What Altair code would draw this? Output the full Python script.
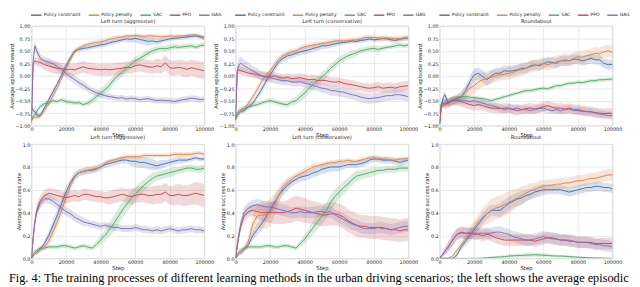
import altair as alt
import pandas as pd

STEPS = [0, 1000, 2000, 3000, 5000, 7500, 10000, 12500, 15000, 17500, 20000, 22500, 25000,
         27500, 30000, 32500, 35000, 37500, 40000, 42500, 45000, 47500, 50000, 52500, 55000,
         57500, 60000, 62500, 65000, 67500, 70000, 72500, 75000, 77500, 80000, 82500, 85000,
         87500, 90000, 92500, 95000, 97500, 100000]
METHODS = ["Policy constraint", "Policy penalty", "SAC", "PPO", "GAIL"]
COLORS = ["#4C72B0", "#DD8452", "#55A868", "#C44E52", "#8172B3"]
TITLES = ["Left turn (aggressive)", "Left turn (conservative)", "Roundabout"]
X_TICKS = [0, 20000, 40000, 60000, 80000, 100000]
REWARD_TICKS = [-1.0, -0.75, -0.5, -0.25, 0.0, 0.25, 0.5, 0.75, 1.0]
SUCCESS_TICKS = [0.0, 0.2, 0.4, 0.6, 0.8, 1.0]
CAPTION = ("Fig. 4: The training processes of different learning methods in the urban driving "
           "scenarios; the left shows the average episodic")

# ---------------- Average episode reward: Left turn (aggressive)
RA_MEAN = {
    "Policy constraint": [-0.62, -0.70, -0.72, -0.78, -0.80, -0.65, -0.48, -0.32, -0.16, 0.02, 0.20, 0.36, 0.50, 0.53, 0.55, 0.56, 0.58, 0.60, 0.62, 0.63, 0.66, 0.68, 0.70, 0.72, 0.74, 0.73, 0.75, 0.73, 0.71, 0.69, 0.70, 0.68, 0.70, 0.72, 0.74, 0.75, 0.76, 0.77, 0.78, 0.79, 0.80, 0.78, 0.75],
    "Policy penalty": [-0.90, -0.85, -0.83, -0.83, -0.82, -0.70, -0.57, -0.40, -0.24, -0.05, 0.14, 0.32, 0.47, 0.55, 0.60, 0.63, 0.65, 0.67, 0.68, 0.70, 0.73, 0.75, 0.77, 0.78, 0.80, 0.80, 0.81, 0.80, 0.79, 0.80, 0.80, 0.79, 0.78, 0.79, 0.80, 0.79, 0.80, 0.80, 0.81, 0.82, 0.82, 0.80, 0.78],
    "SAC": [-0.88, -0.82, -0.78, -0.72, -0.62, -0.56, -0.55, -0.50, -0.52, -0.48, -0.52, -0.53, -0.55, -0.54, -0.58, -0.55, -0.50, -0.42, -0.35, -0.28, -0.20, -0.08, 0.00, 0.07, 0.15, 0.22, 0.30, 0.35, 0.40, 0.45, 0.50, 0.53, 0.55, 0.54, 0.56, 0.58, 0.57, 0.58, 0.59, 0.60, 0.57, 0.60, 0.62],
    "PPO": [-0.85, 0.25, 0.30, 0.28, 0.27, 0.22, 0.20, 0.17, 0.15, 0.14, 0.12, 0.13, 0.12, 0.15, 0.18, 0.15, 0.14, 0.13, 0.12, 0.13, 0.12, 0.13, 0.14, 0.15, 0.17, 0.16, 0.20, 0.22, 0.20, 0.18, 0.17, 0.20, 0.18, 0.26, 0.16, 0.15, 0.17, 0.15, 0.13, 0.16, 0.14, 0.12, 0.10],
    "GAIL": [-0.95, 0.30, 0.60, 0.50, 0.36, 0.30, 0.27, 0.24, 0.19, 0.12, 0.05, -0.02, -0.08, -0.14, -0.19, -0.25, -0.30, -0.34, -0.37, -0.40, -0.42, -0.43, -0.45, -0.44, -0.47, -0.45, -0.46, -0.48, -0.47, -0.46, -0.48, -0.50, -0.49, -0.50, -0.50, -0.52, -0.50, -0.48, -0.47, -0.45, -0.46, -0.48, -0.47],
}
RA_SPREAD = {
    "Policy constraint": [0.06, 0.06, 0.06, 0.06, 0.05, 0.05, 0.06, 0.06, 0.06, 0.06, 0.06, 0.06, 0.05, 0.05, 0.05, 0.05, 0.05, 0.05, 0.05, 0.05, 0.05, 0.05, 0.05, 0.05, 0.06, 0.07, 0.08, 0.09, 0.09, 0.09, 0.08, 0.07, 0.06, 0.05, 0.05, 0.04, 0.04, 0.04, 0.04, 0.04, 0.04, 0.04, 0.04],
    "Policy penalty": [0.05, 0.05, 0.05, 0.05, 0.05, 0.06, 0.06, 0.06, 0.06, 0.06, 0.06, 0.06, 0.05, 0.05, 0.05, 0.05, 0.05, 0.05, 0.05, 0.05, 0.05, 0.05, 0.05, 0.04, 0.04, 0.04, 0.04, 0.04, 0.04, 0.04, 0.04, 0.04, 0.04, 0.04, 0.04, 0.04, 0.04, 0.04, 0.04, 0.04, 0.04, 0.04, 0.04],
    "SAC": [0.04, 0.05, 0.05, 0.05, 0.05, 0.05, 0.05, 0.05, 0.05, 0.05, 0.05, 0.05, 0.05, 0.05, 0.05, 0.06, 0.07, 0.08, 0.08, 0.09, 0.09, 0.09, 0.09, 0.09, 0.08, 0.08, 0.08, 0.07, 0.07, 0.07, 0.07, 0.06, 0.06, 0.06, 0.06, 0.06, 0.05, 0.05, 0.05, 0.05, 0.05, 0.05, 0.05],
    "PPO": [0.05, 0.08, 0.08, 0.08, 0.09, 0.10, 0.12, 0.12, 0.12, 0.12, 0.12, 0.12, 0.12, 0.12, 0.12, 0.12, 0.12, 0.12, 0.12, 0.12, 0.12, 0.12, 0.12, 0.12, 0.12, 0.12, 0.13, 0.13, 0.13, 0.13, 0.13, 0.14, 0.14, 0.15, 0.15, 0.15, 0.15, 0.16, 0.16, 0.16, 0.17, 0.17, 0.17],
    "GAIL": [0.05, 0.10, 0.12, 0.10, 0.08, 0.08, 0.08, 0.08, 0.08, 0.08, 0.08, 0.08, 0.08, 0.08, 0.08, 0.07, 0.07, 0.07, 0.07, 0.06, 0.06, 0.06, 0.06, 0.06, 0.06, 0.06, 0.06, 0.06, 0.06, 0.06, 0.06, 0.06, 0.06, 0.06, 0.06, 0.06, 0.06, 0.06, 0.06, 0.06, 0.06, 0.06, 0.06],
}

# ---------------- Average episode reward: Left turn (conservative)
RC_MEAN = {
    "Policy constraint": [-0.88, -0.80, -0.75, -0.72, -0.70, -0.62, -0.55, -0.42, -0.28, -0.12, 0.02, 0.15, 0.28, 0.35, 0.40, 0.42, 0.45, 0.48, 0.50, 0.52, 0.55, 0.57, 0.60, 0.60, 0.62, 0.64, 0.66, 0.67, 0.68, 0.70, 0.69, 0.71, 0.72, 0.74, 0.72, 0.73, 0.75, 0.74, 0.72, 0.71, 0.73, 0.75, 0.76],
    "Policy penalty": [-0.88, -0.80, -0.75, -0.72, -0.68, -0.55, -0.42, -0.28, -0.12, 0.00, 0.10, 0.22, 0.33, 0.40, 0.44, 0.48, 0.50, 0.55, 0.58, 0.60, 0.62, 0.63, 0.65, 0.66, 0.68, 0.70, 0.70, 0.70, 0.70, 0.71, 0.72, 0.74, 0.77, 0.77, 0.77, 0.76, 0.75, 0.76, 0.75, 0.75, 0.74, 0.76, 0.76],
    "SAC": [-0.85, -0.75, -0.70, -0.68, -0.65, -0.63, -0.60, -0.58, -0.55, -0.52, -0.50, -0.52, -0.55, -0.57, -0.58, -0.53, -0.50, -0.42, -0.35, -0.25, -0.17, -0.10, -0.02, 0.05, 0.15, 0.22, 0.30, 0.35, 0.40, 0.43, 0.46, 0.50, 0.52, 0.54, 0.55, 0.53, 0.55, 0.57, 0.58, 0.60, 0.62, 0.60, 0.62],
    "PPO": [-0.85, 0.10, 0.12, 0.10, 0.08, 0.05, 0.04, 0.02, 0.00, -0.02, -0.02, 0.00, -0.03, -0.05, -0.03, -0.06, -0.05, -0.04, -0.06, -0.08, -0.07, -0.10, -0.09, -0.10, -0.12, -0.13, -0.12, -0.15, -0.17, -0.18, -0.20, -0.22, -0.24, -0.25, -0.24, -0.22, -0.25, -0.24, -0.23, -0.25, -0.22, -0.21, -0.20],
    "GAIL": [-0.90, 0.10, 0.22, 0.25, 0.20, 0.15, 0.10, 0.05, 0.00, -0.02, -0.04, -0.06, -0.08, -0.10, -0.10, -0.12, -0.13, -0.12, -0.15, -0.17, -0.20, -0.22, -0.25, -0.26, -0.30, -0.30, -0.32, -0.33, -0.36, -0.38, -0.40, -0.43, -0.45, -0.46, -0.45, -0.44, -0.42, -0.40, -0.40, -0.38, -0.38, -0.40, -0.42],
}
RC_SPREAD = {
    "Policy constraint": [0.05, 0.05, 0.05, 0.05, 0.05, 0.05, 0.06, 0.06, 0.07, 0.07, 0.07, 0.07, 0.07, 0.07, 0.07, 0.07, 0.07, 0.07, 0.07, 0.07, 0.07, 0.07, 0.07, 0.06, 0.06, 0.06, 0.06, 0.05, 0.05, 0.05, 0.05, 0.05, 0.05, 0.05, 0.05, 0.05, 0.05, 0.05, 0.05, 0.05, 0.05, 0.05, 0.05],
    "Policy penalty": [0.05, 0.05, 0.05, 0.05, 0.05, 0.06, 0.06, 0.06, 0.06, 0.06, 0.06, 0.06, 0.06, 0.06, 0.06, 0.06, 0.06, 0.06, 0.06, 0.05, 0.05, 0.05, 0.05, 0.05, 0.05, 0.05, 0.05, 0.05, 0.05, 0.05, 0.05, 0.05, 0.05, 0.05, 0.05, 0.05, 0.05, 0.05, 0.05, 0.05, 0.05, 0.05, 0.05],
    "SAC": [0.05, 0.05, 0.05, 0.05, 0.05, 0.05, 0.05, 0.05, 0.05, 0.05, 0.05, 0.05, 0.05, 0.05, 0.06, 0.07, 0.08, 0.09, 0.10, 0.10, 0.10, 0.10, 0.10, 0.10, 0.09, 0.09, 0.08, 0.08, 0.07, 0.07, 0.07, 0.06, 0.06, 0.06, 0.06, 0.06, 0.05, 0.05, 0.05, 0.05, 0.05, 0.05, 0.05],
    "PPO": [0.05, 0.08, 0.08, 0.08, 0.08, 0.08, 0.08, 0.08, 0.08, 0.08, 0.08, 0.08, 0.08, 0.08, 0.08, 0.09, 0.09, 0.09, 0.09, 0.09, 0.09, 0.09, 0.09, 0.09, 0.09, 0.09, 0.09, 0.09, 0.09, 0.09, 0.09, 0.09, 0.09, 0.09, 0.10, 0.10, 0.10, 0.10, 0.10, 0.10, 0.10, 0.10, 0.10],
    "GAIL": [0.05, 0.12, 0.15, 0.14, 0.12, 0.11, 0.10, 0.10, 0.10, 0.10, 0.10, 0.09, 0.09, 0.09, 0.09, 0.09, 0.09, 0.09, 0.09, 0.09, 0.09, 0.09, 0.09, 0.10, 0.10, 0.10, 0.10, 0.10, 0.10, 0.10, 0.10, 0.10, 0.10, 0.10, 0.10, 0.10, 0.10, 0.10, 0.10, 0.10, 0.10, 0.10, 0.10],
}

# ---------------- Average episode reward: Roundabout
RR_MEAN = {
    "Policy constraint": [-0.98, -0.60, -0.45, -0.38, -0.55, -0.50, -0.45, -0.42, -0.30, -0.12, 0.02, 0.05, -0.02, -0.08, 0.00, 0.05, 0.05, 0.10, 0.09, 0.10, 0.12, 0.15, 0.15, 0.20, 0.22, 0.20, 0.24, 0.28, 0.27, 0.25, 0.30, 0.30, 0.30, 0.33, 0.33, 0.30, 0.32, 0.35, 0.32, 0.32, 0.25, 0.22, 0.23],
    "Policy penalty": [-0.98, -0.60, -0.55, -0.55, -0.55, -0.50, -0.50, -0.42, -0.35, -0.25, -0.20, -0.12, -0.08, -0.05, -0.03, 0.00, 0.02, 0.03, 0.05, 0.07, 0.10, 0.12, 0.15, 0.18, 0.20, 0.22, 0.25, 0.22, 0.25, 0.28, 0.30, 0.32, 0.30, 0.35, 0.38, 0.37, 0.40, 0.42, 0.45, 0.44, 0.48, 0.50, 0.47],
    "SAC": [-0.60, -0.58, -0.60, -0.57, -0.52, -0.48, -0.45, -0.42, -0.42, -0.43, -0.44, -0.45, -0.46, -0.48, -0.50, -0.47, -0.45, -0.42, -0.40, -0.37, -0.35, -0.32, -0.30, -0.30, -0.28, -0.26, -0.25, -0.26, -0.23, -0.20, -0.20, -0.17, -0.15, -0.15, -0.13, -0.14, -0.12, -0.10, -0.10, -0.08, -0.08, -0.07, -0.07],
    "PPO": [-0.95, -0.60, -0.55, -0.58, -0.55, -0.50, -0.50, -0.52, -0.55, -0.58, -0.60, -0.58, -0.60, -0.63, -0.65, -0.65, -0.66, -0.65, -0.65, -0.68, -0.70, -0.68, -0.66, -0.65, -0.67, -0.65, -0.62, -0.60, -0.63, -0.65, -0.65, -0.67, -0.65, -0.68, -0.68, -0.70, -0.72, -0.72, -0.74, -0.75, -0.76, -0.75, -0.76],
    "GAIL": [-0.75, -0.60, -0.55, -0.55, -0.52, -0.50, -0.48, -0.50, -0.50, -0.52, -0.50, -0.53, -0.55, -0.58, -0.60, -0.62, -0.65, -0.68, -0.66, -0.67, -0.65, -0.68, -0.68, -0.70, -0.68, -0.66, -0.65, -0.68, -0.70, -0.68, -0.70, -0.68, -0.67, -0.70, -0.70, -0.72, -0.72, -0.73, -0.75, -0.77, -0.78, -0.80, -0.80],
}
RR_SPREAD = {
    "Policy constraint": [0.02, 0.06, 0.08, 0.08, 0.08, 0.08, 0.08, 0.09, 0.10, 0.12, 0.12, 0.12, 0.12, 0.12, 0.12, 0.11, 0.11, 0.11, 0.11, 0.10, 0.10, 0.10, 0.10, 0.10, 0.10, 0.10, 0.10, 0.10, 0.10, 0.10, 0.10, 0.10, 0.10, 0.10, 0.10, 0.10, 0.10, 0.10, 0.10, 0.10, 0.10, 0.10, 0.10],
    "Policy penalty": [0.02, 0.06, 0.08, 0.08, 0.08, 0.08, 0.09, 0.11, 0.13, 0.15, 0.15, 0.15, 0.15, 0.14, 0.13, 0.12, 0.12, 0.12, 0.12, 0.12, 0.12, 0.12, 0.12, 0.12, 0.12, 0.12, 0.12, 0.12, 0.12, 0.12, 0.12, 0.12, 0.12, 0.12, 0.12, 0.12, 0.12, 0.12, 0.12, 0.12, 0.12, 0.12, 0.12],
    "SAC": [0.04, 0.04, 0.04, 0.04, 0.04, 0.04, 0.04, 0.04, 0.04, 0.04, 0.04, 0.04, 0.04, 0.04, 0.04, 0.04, 0.04, 0.04, 0.04, 0.04, 0.04, 0.04, 0.04, 0.04, 0.04, 0.04, 0.04, 0.04, 0.04, 0.04, 0.04, 0.04, 0.04, 0.04, 0.04, 0.04, 0.04, 0.04, 0.04, 0.04, 0.04, 0.04, 0.04],
    "PPO": [0.05, 0.08, 0.09, 0.10, 0.10, 0.10, 0.10, 0.10, 0.10, 0.10, 0.10, 0.10, 0.10, 0.10, 0.10, 0.10, 0.10, 0.10, 0.10, 0.10, 0.10, 0.10, 0.10, 0.10, 0.10, 0.10, 0.10, 0.10, 0.10, 0.10, 0.10, 0.10, 0.10, 0.10, 0.10, 0.10, 0.10, 0.10, 0.10, 0.10, 0.10, 0.10, 0.10],
    "GAIL": [0.05, 0.07, 0.08, 0.08, 0.08, 0.08, 0.08, 0.08, 0.08, 0.08, 0.08, 0.08, 0.08, 0.08, 0.08, 0.08, 0.08, 0.08, 0.08, 0.08, 0.08, 0.08, 0.08, 0.08, 0.08, 0.08, 0.08, 0.08, 0.08, 0.08, 0.08, 0.08, 0.08, 0.08, 0.08, 0.08, 0.08, 0.08, 0.08, 0.08, 0.08, 0.08, 0.08],
}

# ---------------- Average success rate: Left turn (aggressive)
SA_MEAN = {
    "Policy constraint": [0.00, 0.02, 0.04, 0.05, 0.08, 0.13, 0.20, 0.29, 0.38, 0.48, 0.58, 0.66, 0.72, 0.75, 0.76, 0.77, 0.77, 0.78, 0.80, 0.82, 0.83, 0.84, 0.85, 0.86, 0.86, 0.85, 0.85, 0.84, 0.84, 0.83, 0.82, 0.81, 0.82, 0.83, 0.84, 0.85, 0.86, 0.86, 0.86, 0.87, 0.88, 0.87, 0.87],
    "Policy penalty": [0.00, 0.02, 0.04, 0.05, 0.07, 0.10, 0.15, 0.23, 0.32, 0.42, 0.53, 0.63, 0.71, 0.75, 0.76, 0.77, 0.78, 0.79, 0.80, 0.83, 0.85, 0.86, 0.87, 0.88, 0.89, 0.89, 0.89, 0.89, 0.90, 0.90, 0.90, 0.90, 0.90, 0.90, 0.90, 0.91, 0.91, 0.91, 0.91, 0.91, 0.92, 0.92, 0.91],
    "SAC": [0.00, 0.04, 0.06, 0.07, 0.09, 0.09, 0.10, 0.10, 0.10, 0.11, 0.11, 0.10, 0.09, 0.10, 0.11, 0.10, 0.09, 0.12, 0.16, 0.20, 0.25, 0.30, 0.36, 0.42, 0.47, 0.52, 0.56, 0.60, 0.64, 0.67, 0.70, 0.72, 0.73, 0.74, 0.75, 0.76, 0.77, 0.78, 0.79, 0.79, 0.78, 0.78, 0.79],
    "PPO": [0.00, 0.18, 0.32, 0.42, 0.50, 0.55, 0.57, 0.56, 0.55, 0.54, 0.53, 0.54, 0.55, 0.54, 0.56, 0.56, 0.55, 0.54, 0.54, 0.53, 0.53, 0.54, 0.55, 0.56, 0.55, 0.54, 0.55, 0.56, 0.56, 0.55, 0.55, 0.56, 0.56, 0.58, 0.55, 0.55, 0.56, 0.55, 0.55, 0.56, 0.57, 0.56, 0.55],
    "GAIL": [0.00, 0.18, 0.32, 0.40, 0.48, 0.52, 0.52, 0.50, 0.47, 0.44, 0.41, 0.39, 0.36, 0.34, 0.32, 0.31, 0.30, 0.29, 0.28, 0.29, 0.28, 0.27, 0.27, 0.26, 0.26, 0.26, 0.27, 0.26, 0.25, 0.25, 0.24, 0.25, 0.24, 0.25, 0.26, 0.25, 0.24, 0.25, 0.25, 0.26, 0.25, 0.25, 0.24],
}
SA_SPREAD = {
    "Policy constraint": [0.00, 0.01, 0.01, 0.02, 0.02, 0.03, 0.04, 0.05, 0.05, 0.05, 0.05, 0.04, 0.03, 0.03, 0.03, 0.03, 0.03, 0.03, 0.03, 0.03, 0.03, 0.03, 0.03, 0.03, 0.03, 0.04, 0.05, 0.05, 0.05, 0.05, 0.05, 0.04, 0.04, 0.03, 0.03, 0.03, 0.03, 0.03, 0.02, 0.02, 0.02, 0.02, 0.02],
    "Policy penalty": [0.00, 0.01, 0.01, 0.02, 0.02, 0.03, 0.04, 0.05, 0.05, 0.05, 0.05, 0.04, 0.04, 0.03, 0.03, 0.03, 0.03, 0.03, 0.02, 0.02, 0.02, 0.02, 0.02, 0.02, 0.02, 0.02, 0.02, 0.02, 0.02, 0.02, 0.02, 0.02, 0.02, 0.02, 0.02, 0.02, 0.02, 0.02, 0.02, 0.02, 0.02, 0.02, 0.02],
    "SAC": [0.00, 0.01, 0.02, 0.02, 0.02, 0.02, 0.02, 0.02, 0.02, 0.02, 0.02, 0.02, 0.02, 0.02, 0.02, 0.02, 0.02, 0.03, 0.04, 0.05, 0.06, 0.07, 0.07, 0.07, 0.07, 0.07, 0.06, 0.06, 0.05, 0.05, 0.05, 0.04, 0.04, 0.04, 0.04, 0.04, 0.03, 0.03, 0.03, 0.03, 0.03, 0.03, 0.03],
    "PPO": [0.00, 0.03, 0.04, 0.05, 0.05, 0.05, 0.05, 0.05, 0.05, 0.05, 0.05, 0.05, 0.05, 0.05, 0.05, 0.05, 0.05, 0.05, 0.05, 0.05, 0.06, 0.06, 0.06, 0.06, 0.06, 0.07, 0.07, 0.07, 0.07, 0.07, 0.08, 0.08, 0.08, 0.08, 0.08, 0.09, 0.09, 0.09, 0.09, 0.09, 0.10, 0.10, 0.10],
    "GAIL": [0.00, 0.02, 0.03, 0.04, 0.04, 0.04, 0.04, 0.04, 0.04, 0.04, 0.04, 0.04, 0.04, 0.04, 0.04, 0.03, 0.03, 0.03, 0.03, 0.03, 0.03, 0.03, 0.03, 0.03, 0.03, 0.03, 0.03, 0.03, 0.03, 0.03, 0.03, 0.03, 0.03, 0.03, 0.03, 0.03, 0.03, 0.03, 0.03, 0.03, 0.03, 0.03, 0.03],
}

# ---------------- Average success rate: Left turn (conservative)
SC_MEAN = {
    "Policy constraint": [0.00, 0.02, 0.04, 0.05, 0.08, 0.12, 0.20, 0.25, 0.30, 0.36, 0.42, 0.49, 0.55, 0.60, 0.64, 0.67, 0.69, 0.71, 0.72, 0.73, 0.75, 0.76, 0.78, 0.79, 0.80, 0.80, 0.80, 0.81, 0.82, 0.82, 0.82, 0.83, 0.84, 0.86, 0.87, 0.87, 0.86, 0.86, 0.86, 0.85, 0.84, 0.85, 0.86],
    "Policy penalty": [0.00, 0.02, 0.04, 0.05, 0.08, 0.15, 0.30, 0.37, 0.38, 0.38, 0.40, 0.47, 0.55, 0.62, 0.66, 0.69, 0.72, 0.74, 0.76, 0.78, 0.80, 0.81, 0.82, 0.83, 0.84, 0.84, 0.85, 0.85, 0.86, 0.85, 0.85, 0.86, 0.87, 0.88, 0.88, 0.87, 0.87, 0.87, 0.86, 0.86, 0.87, 0.87, 0.87],
    "SAC": [0.00, 0.04, 0.06, 0.07, 0.09, 0.10, 0.10, 0.10, 0.10, 0.11, 0.11, 0.10, 0.10, 0.11, 0.11, 0.10, 0.09, 0.13, 0.17, 0.22, 0.27, 0.32, 0.37, 0.42, 0.49, 0.54, 0.58, 0.62, 0.65, 0.69, 0.72, 0.73, 0.74, 0.75, 0.76, 0.77, 0.77, 0.78, 0.78, 0.78, 0.79, 0.79, 0.79],
    "PPO": [0.00, 0.10, 0.20, 0.28, 0.37, 0.41, 0.42, 0.41, 0.40, 0.40, 0.40, 0.40, 0.40, 0.40, 0.41, 0.42, 0.44, 0.43, 0.42, 0.41, 0.40, 0.39, 0.38, 0.38, 0.39, 0.39, 0.38, 0.36, 0.33, 0.31, 0.29, 0.28, 0.28, 0.27, 0.27, 0.27, 0.26, 0.26, 0.25, 0.25, 0.24, 0.25, 0.25],
    "GAIL": [0.00, 0.12, 0.22, 0.30, 0.40, 0.44, 0.46, 0.47, 0.46, 0.45, 0.45, 0.44, 0.43, 0.42, 0.41, 0.40, 0.40, 0.41, 0.40, 0.40, 0.40, 0.41, 0.41, 0.40, 0.41, 0.38, 0.36, 0.34, 0.32, 0.30, 0.29, 0.27, 0.26, 0.26, 0.26, 0.27, 0.27, 0.26, 0.25, 0.26, 0.27, 0.28, 0.28],
}
SC_SPREAD = {
    "Policy constraint": [0.00, 0.01, 0.01, 0.02, 0.02, 0.03, 0.04, 0.05, 0.05, 0.05, 0.05, 0.05, 0.05, 0.05, 0.05, 0.04, 0.04, 0.04, 0.04, 0.04, 0.04, 0.04, 0.04, 0.04, 0.04, 0.04, 0.04, 0.03, 0.03, 0.03, 0.03, 0.03, 0.03, 0.03, 0.03, 0.03, 0.03, 0.03, 0.03, 0.03, 0.03, 0.03, 0.03],
    "Policy penalty": [0.00, 0.01, 0.02, 0.02, 0.03, 0.05, 0.08, 0.10, 0.12, 0.12, 0.12, 0.10, 0.07, 0.05, 0.04, 0.04, 0.03, 0.03, 0.03, 0.03, 0.03, 0.02, 0.02, 0.02, 0.02, 0.02, 0.02, 0.02, 0.02, 0.02, 0.02, 0.02, 0.02, 0.02, 0.02, 0.02, 0.02, 0.02, 0.02, 0.02, 0.02, 0.02, 0.02],
    "SAC": [0.00, 0.01, 0.02, 0.02, 0.02, 0.02, 0.02, 0.02, 0.02, 0.02, 0.02, 0.02, 0.02, 0.02, 0.02, 0.02, 0.02, 0.03, 0.04, 0.05, 0.06, 0.07, 0.07, 0.07, 0.07, 0.07, 0.06, 0.06, 0.05, 0.05, 0.05, 0.04, 0.04, 0.04, 0.04, 0.03, 0.03, 0.03, 0.03, 0.03, 0.03, 0.03, 0.03],
    "PPO": [0.00, 0.03, 0.04, 0.05, 0.05, 0.05, 0.05, 0.06, 0.07, 0.08, 0.09, 0.10, 0.10, 0.10, 0.10, 0.11, 0.11, 0.11, 0.11, 0.10, 0.10, 0.10, 0.10, 0.10, 0.10, 0.10, 0.10, 0.10, 0.10, 0.10, 0.10, 0.10, 0.10, 0.10, 0.10, 0.10, 0.10, 0.10, 0.10, 0.10, 0.10, 0.10, 0.10],
    "GAIL": [0.00, 0.03, 0.04, 0.05, 0.05, 0.05, 0.05, 0.05, 0.05, 0.05, 0.05, 0.05, 0.05, 0.05, 0.05, 0.05, 0.05, 0.05, 0.05, 0.05, 0.05, 0.05, 0.05, 0.05, 0.05, 0.05, 0.05, 0.05, 0.05, 0.05, 0.05, 0.05, 0.05, 0.05, 0.05, 0.05, 0.05, 0.05, 0.05, 0.05, 0.05, 0.05, 0.05],
}

# ---------------- Average success rate: Roundabout
SR_MEAN = {
    "Policy constraint": [0.00, 0.00, 0.00, 0.00, 0.00, 0.00, 0.03, 0.10, 0.15, 0.20, 0.25, 0.30, 0.35, 0.39, 0.42, 0.42, 0.42, 0.45, 0.48, 0.50, 0.52, 0.53, 0.55, 0.56, 0.58, 0.59, 0.60, 0.60, 0.60, 0.60, 0.60, 0.59, 0.58, 0.59, 0.60, 0.61, 0.62, 0.62, 0.63, 0.63, 0.62, 0.62, 0.61],
    "Policy penalty": [0.00, 0.00, 0.00, 0.00, 0.00, 0.02, 0.07, 0.12, 0.17, 0.22, 0.27, 0.32, 0.36, 0.39, 0.42, 0.44, 0.45, 0.47, 0.49, 0.51, 0.53, 0.55, 0.57, 0.59, 0.60, 0.62, 0.63, 0.64, 0.64, 0.65, 0.65, 0.66, 0.66, 0.67, 0.68, 0.68, 0.69, 0.70, 0.70, 0.71, 0.72, 0.73, 0.73],
    "SAC": [0.000, 0.000, 0.000, 0.000, 0.000, 0.000, 0.000, 0.000, 0.000, 0.000, 0.000, 0.000, 0.002, 0.005, 0.008, 0.010, 0.012, 0.015, 0.020, 0.022, 0.024, 0.026, 0.028, 0.030, 0.032, 0.030, 0.028, 0.025, 0.022, 0.020, 0.020, 0.018, 0.015, 0.013, 0.010, 0.008, 0.006, 0.005, 0.004, 0.003, 0.002, 0.001, 0.000],
    "PPO": [0.00, 0.02, 0.04, 0.06, 0.10, 0.16, 0.21, 0.23, 0.22, 0.22, 0.21, 0.21, 0.20, 0.21, 0.20, 0.18, 0.17, 0.16, 0.16, 0.16, 0.16, 0.16, 0.16, 0.16, 0.15, 0.16, 0.17, 0.18, 0.18, 0.17, 0.16, 0.16, 0.15, 0.15, 0.14, 0.14, 0.14, 0.14, 0.13, 0.13, 0.13, 0.13, 0.13],
    "GAIL": [0.00, 0.02, 0.04, 0.06, 0.10, 0.16, 0.21, 0.22, 0.22, 0.22, 0.22, 0.22, 0.22, 0.22, 0.22, 0.23, 0.23, 0.22, 0.21, 0.19, 0.18, 0.17, 0.16, 0.16, 0.17, 0.18, 0.19, 0.18, 0.17, 0.17, 0.16, 0.16, 0.16, 0.15, 0.14, 0.14, 0.14, 0.13, 0.12, 0.12, 0.11, 0.11, 0.10],
}
SR_SPREAD = {
    "Policy constraint": [0.00, 0.00, 0.00, 0.00, 0.00, 0.00, 0.02, 0.03, 0.04, 0.05, 0.05, 0.05, 0.05, 0.05, 0.05, 0.05, 0.06, 0.06, 0.06, 0.06, 0.06, 0.06, 0.05, 0.05, 0.05, 0.05, 0.05, 0.04, 0.04, 0.04, 0.04, 0.04, 0.04, 0.04, 0.04, 0.04, 0.04, 0.04, 0.04, 0.04, 0.04, 0.04, 0.04],
    "Policy penalty": [0.00, 0.00, 0.00, 0.00, 0.00, 0.01, 0.02, 0.03, 0.04, 0.05, 0.06, 0.07, 0.08, 0.09, 0.10, 0.10, 0.10, 0.10, 0.10, 0.09, 0.08, 0.08, 0.07, 0.07, 0.06, 0.06, 0.05, 0.05, 0.05, 0.05, 0.05, 0.05, 0.05, 0.05, 0.05, 0.05, 0.05, 0.05, 0.05, 0.05, 0.05, 0.05, 0.05],
    "SAC": [0.000, 0.000, 0.000, 0.000, 0.000, 0.002, 0.002, 0.003, 0.003, 0.004, 0.005, 0.006, 0.007, 0.008, 0.010, 0.010, 0.012, 0.012, 0.014, 0.015, 0.016, 0.017, 0.018, 0.018, 0.018, 0.017, 0.016, 0.015, 0.014, 0.013, 0.012, 0.011, 0.010, 0.009, 0.008, 0.007, 0.006, 0.005, 0.004, 0.004, 0.003, 0.003, 0.002],
    "PPO": [0.00, 0.01, 0.02, 0.03, 0.04, 0.05, 0.05, 0.05, 0.05, 0.05, 0.05, 0.05, 0.05, 0.05, 0.05, 0.05, 0.05, 0.05, 0.05, 0.05, 0.05, 0.05, 0.05, 0.05, 0.05, 0.05, 0.05, 0.05, 0.05, 0.05, 0.05, 0.05, 0.05, 0.05, 0.05, 0.05, 0.05, 0.05, 0.05, 0.05, 0.05, 0.05, 0.05],
    "GAIL": [0.00, 0.01, 0.02, 0.03, 0.04, 0.05, 0.05, 0.05, 0.05, 0.05, 0.05, 0.05, 0.05, 0.05, 0.05, 0.05, 0.05, 0.05, 0.05, 0.05, 0.05, 0.05, 0.05, 0.05, 0.05, 0.05, 0.05, 0.05, 0.05, 0.05, 0.05, 0.05, 0.05, 0.05, 0.05, 0.05, 0.05, 0.05, 0.05, 0.05, 0.05, 0.05, 0.05],
}

PANEL_W = 177
TOP_H = 102
BOT_H = 117
TEXT = "#262626"


def top_legend(title):
    # legend row on top, panel title directly beneath it (as the legend's own title)
    return alt.Legend(
        title=title, titleOrient="bottom", titleAnchor="middle", titlePadding=1.5,
        titleFontSize=5.2, titleFontWeight="normal", titleColor=TEXT, titleFont="DejaVu Sans",
        titleLimit=400,
        orient="none", direction="horizontal", legendX=2, legendY=-14,
        symbolType="M-2.7,0L2.7,0", symbolSize=16, symbolStrokeWidth=1.5, symbolOpacity=1,
        labelFontSize=4.6, labelOffset=4.5, columnPadding=4, padding=0,
        labelColor=TEXT, labelFont="DejaVu Sans",
    )


def make_panel(mean, spread, ylabel, ydomain, yticks, yfmt, height, legend=None, title=None):
    rows = []
    for m in METHODS:
        assert len(mean[m]) == len(STEPS) and len(spread[m]) == len(STEPS), (ylabel, m)
        for s, v, d in zip(STEPS, mean[m], spread[m]):
            rows.append({"step": s, "method": m, "mean": v,
                         "lo": max(ydomain[0], v - d), "hi": min(ydomain[1], v + d)})
    df = pd.DataFrame(rows)
    x = alt.X("step:Q", scale=alt.Scale(domain=[0, 100000], nice=False, zero=False),
              axis=alt.Axis(values=X_TICKS, format="d", title="Step"))
    yscale = alt.Scale(domain=ydomain, nice=False, zero=False)
    yaxis = alt.Axis(values=yticks, format=yfmt, title=ylabel)
    cscale = alt.Scale(domain=METHODS, range=COLORS)
    band = alt.Chart(df).mark_area(opacity=0.22, clip=True).encode(
        x=x,
        y=alt.Y("lo:Q", scale=yscale, axis=yaxis),
        y2="hi:Q",
        color=alt.Color("method:N", scale=cscale, sort=METHODS, legend=legend),
    )
    line = alt.Chart(df).mark_line(strokeWidth=1, clip=True).encode(
        x=x,
        y=alt.Y("mean:Q", scale=yscale, axis=yaxis),
        color=alt.Color("method:N", scale=cscale, sort=METHODS, legend=legend),
    )
    props = {"width": PANEL_W, "height": height}
    if title is not None:
        # offset is measured from the top of the y-axis labels; pull the title down to the frame
        props["title"] = alt.TitleParams(title, frame="group", offset=-2.5, baseline="bottom")
    return alt.layer(band, line).properties(**props)


top = [
    make_panel(RA_MEAN, RA_SPREAD, "Average episode reward", [-1, 1], REWARD_TICKS, ".2f", TOP_H, legend=top_legend(TITLES[0])),
    make_panel(RC_MEAN, RC_SPREAD, "Average episode reward", [-1, 1], REWARD_TICKS, ".2f", TOP_H, legend=top_legend(TITLES[1])),
    make_panel(RR_MEAN, RR_SPREAD, "Average episode reward", [-1, 1], REWARD_TICKS, ".2f", TOP_H, legend=top_legend(TITLES[2])),
]
bottom = [
    make_panel(SA_MEAN, SA_SPREAD, "Average success rate", [0, 1], SUCCESS_TICKS, ".1f", BOT_H, title=TITLES[0]),
    make_panel(SC_MEAN, SC_SPREAD, "Average success rate", [0, 1], SUCCESS_TICKS, ".1f", BOT_H, title=TITLES[1]),
    make_panel(SR_MEAN, SR_SPREAD, "Average success rate", [0, 1], SUCCESS_TICKS, ".1f", BOT_H, title=TITLES[2]),
]

chart = alt.concat(
    *top, *bottom, columns=3, spacing={"row": 19, "column": 32}, bounds="flush"
).resolve_scale(color="independent").properties(
    padding=0,
    title=alt.TitleParams(CAPTION, orient="bottom", anchor="start", baseline="top",
                          offset=1, font="Liberation Serif", fontSize=12.6,
                          fontWeight="normal", color="#000000"),
).configure(
    font="DejaVu Sans", background="white"
).configure_view(
    stroke="#cccccc", strokeWidth=0.8
).configure_axis(
    labelFontSize=5, titleFontSize=5.5, labelColor=TEXT, titleColor=TEXT,
    titleFontWeight="normal", domain=False, ticks=False, grid=True,
    gridColor="#e3e3e3", gridWidth=0.8, labelPadding=1.5, titlePadding=0.8,
    labelFlush=False, labelFont="DejaVu Sans", titleFont="DejaVu Sans",
).configure_title(
    fontSize=5.2, fontWeight="normal", color=TEXT, font="DejaVu Sans",
)

chart.save("out.html", embed_options={"renderer": "svg", "actions": False})
